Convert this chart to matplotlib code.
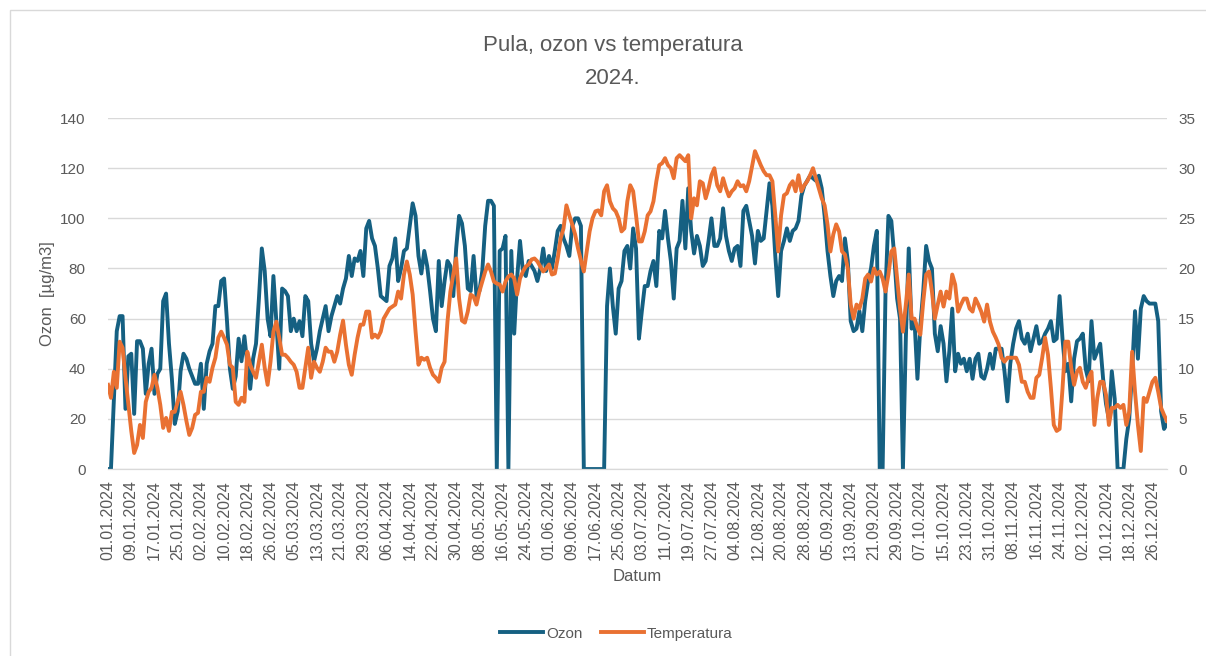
import pandas as pd
import matplotlib.pyplot as plt
import matplotlib.patches as patches
import numpy as np

# dnevni podaci, Pula 2024
dates = pd.date_range("2024-01-01", "2024-12-31", freq="D")

ozon = [
    0, 0, 28, 55, 61, 61, 24, 45, 46, 22, 51,
    51, 48, 30, 42, 48, 30, 38, 40, 67, 70,
    50, 36, 18, 23, 39, 46, 44, 40, 37, 34,
    34, 42, 24, 42, 47, 50, 65, 65, 75, 76,
    59, 40, 32, 37, 52, 43, 53, 42, 32, 44,
    50, 68, 88, 79, 60, 53, 77, 59, 40, 72,
    71, 69, 55, 60, 55, 59, 53, 69, 67, 50,
    43, 48, 55, 60, 65, 55, 61, 65, 69, 66,
    72, 76, 85, 77, 84, 83, 87, 77, 96, 99,
    92, 89, 80, 69, 68, 67, 81, 84, 92, 75,
    80, 87, 88, 97, 106, 101, 85, 78, 87, 81,
    71, 60, 55, 83, 65, 75, 83, 81, 69, 88,
    101, 98, 89, 72, 71, 85, 69, 71, 79, 97,
    107, 107, 105, 0, 87, 88, 93, 0, 87, 54,
    76, 91, 79, 77, 83, 81, 79, 75, 80, 88,
    79, 85, 80, 87, 95, 97, 92, 89, 85, 97,
    100, 100, 97, 0, 0, 0, 0, 0, 0, 0,
    0, 65, 80, 65, 54, 72, 75, 87, 89, 80,
    96, 88, 52, 63, 73, 73, 79, 83, 73, 95,
    92, 103, 92, 83, 68, 88, 91, 107, 88, 112,
    95, 86, 93, 89, 81, 83, 91, 100, 89, 89,
    92, 104, 93, 87, 83, 88, 89, 81, 103, 105,
    99, 93, 82, 95, 91, 92, 103, 114, 105, 85,
    69, 87, 91, 96, 91, 95, 96, 99, 109, 113,
    115, 117, 116, 115, 117, 112, 101, 87, 77, 69,
    75, 77, 75, 92, 83, 59, 55, 56, 63, 55,
    67, 75, 80, 89, 95, 0, 0, 71, 101, 99,
    85, 68, 60, 0, 52, 88, 56, 59, 36, 57,
    71, 89, 83, 80, 54, 47, 57, 50, 35, 47,
    64, 39, 46, 42, 44, 39, 44, 36, 44, 46,
    37, 36, 40, 46, 40, 48, 48, 48, 39, 27,
    42, 50, 56, 59, 52, 50, 54, 47, 52, 57,
    50, 51, 54, 56, 59, 51, 52, 69, 52, 39,
    42, 27, 44, 51, 52, 54, 40, 35, 59, 44,
    47, 50, 36, 26, 20, 39, 28, 0, 0, 0,
    12, 20, 39, 63, 44, 64, 69, 67, 66, 66,
    66, 59, 23, 16, 18,
]

temperatura = [
    8.4, 7.1, 9.7, 8.1, 12.7, 12.1, 9.1, 6.4, 3.8, 1.6, 2.4,
    4.4, 3.1, 6.7, 7.7, 8.1, 9.4, 8.1, 6.4, 4.1, 5.1,
    3.8, 5.7, 5.7, 6.7, 7.7, 6.4, 4.8, 3.4, 4.1, 5.4,
    5.6, 7.7, 7.7, 9.1, 8.7, 10.1, 11.1, 13.1, 13.7, 13.1,
    12.4, 10.4, 10.1, 6.7, 6.4, 7.1, 6.7, 11.7, 10.4, 9.7,
    9.1, 10.7, 12.4, 10.1, 8.4, 10.7, 13.7, 14.7, 13.1, 11.4,
    11.4, 11.1, 10.7, 10.4, 9.7, 8.1, 8.1, 10.1, 12.1, 9.1,
    10.7, 10.1, 9.7, 10.7, 12.1, 11.7, 11.7, 10.7, 11.7, 13.4,
    14.8, 12.4, 10.4, 9.4, 11.4, 13.1, 14.4, 14.4, 15.7, 15.7,
    13.1, 13.4, 13.1, 13.7, 15.0, 15.5, 16.0, 16.2, 16.4, 17.7,
    17.0, 19.4, 20.7, 19.4, 17.4, 13.7, 10.4, 11.1, 10.9, 11.1,
    10.1, 9.4, 9.1, 8.7, 10.1, 10.7, 14.7, 17.7, 19.4, 21.0,
    17.0, 14.8, 14.6, 15.7, 17.4, 17.2, 16.4, 17.7, 18.7, 19.7,
    20.4, 19.7, 18.7, 18.5, 18.4, 17.7, 18.7, 19.2, 19.4, 19.0,
    17.4, 19.0, 19.7, 20.2, 20.4, 20.9, 21.0, 20.7, 20.2, 19.7,
    20.0, 20.4, 19.4, 19.5, 21.0, 23.0, 24.0, 26.3, 25.3, 24.4,
    23.4, 22.0, 20.8, 19.7, 21.7, 23.7, 25.0, 25.7, 25.8, 25.3,
    27.7, 28.3, 26.7, 26.0, 25.7, 25.0, 23.7, 24.0, 26.7, 28.3,
    27.7, 25.3, 22.7, 22.7, 23.7, 25.3, 25.7, 26.7, 28.7, 30.3,
    30.5, 31.0, 30.3, 30.0, 29.0, 31.0, 31.3, 31.0, 30.7, 31.3,
    25.0, 27.0, 26.3, 28.7, 28.5, 27.0, 28.0, 29.3, 30.0, 28.3,
    27.7, 29.0, 28.0, 27.2, 27.7, 28.0, 28.7, 28.2, 28.3, 27.7,
    28.7, 30.2, 31.7, 31.0, 30.3, 29.7, 29.3, 29.3, 28.7, 25.3,
    21.7, 25.3, 27.3, 27.5, 28.3, 28.7, 27.7, 29.3, 27.7, 28.3,
    28.7, 29.3, 30.0, 29.0, 28.0, 27.0, 26.3, 24.4, 21.7, 23.4,
    24.4, 23.7, 21.7, 21.4, 20.0, 16.4, 15.0, 16.4, 16.0, 17.0,
    19.0, 19.4, 18.7, 20.0, 19.4, 19.7, 19.0, 17.7, 19.4, 21.7,
    22.0, 19.0, 16.0, 13.7, 16.4, 19.4, 15.0, 15.0, 14.1, 13.4,
    16.7, 19.4, 19.7, 17.7, 15.0, 16.4, 17.7, 16.2, 17.7, 17.0,
    19.4, 18.4, 15.7, 16.4, 17.0, 17.0, 16.0, 15.7, 17.0, 16.4,
    15.7, 14.7, 16.4, 14.7, 13.7, 13.1, 12.4, 11.1, 10.7, 11.1,
    11.1, 11.1, 11.1, 10.4, 8.7, 8.7, 7.7, 7.1, 7.1, 9.1,
    9.4, 11.1, 13.1, 11.4, 8.1, 4.4, 3.8, 4.0, 8.0, 12.7,
    12.7, 10.1, 8.4, 9.7, 10.1, 8.7, 8.1, 9.1, 9.7, 4.4,
    7.1, 8.7, 8.7, 7.4, 4.4, 6.1, 6.1, 6.4, 6.1, 6.4,
    4.4, 5.7, 11.7, 7.7, 4.4, 1.8, 7.1, 6.7, 7.7, 8.7,
    9.1, 7.7, 6.1, 5.4, 4.8,
]

plt.rcParams['font.family'] = ['Liberation Sans', 'DejaVu Sans']
siva = '#595959'
plava = '#156082'
narancasta = '#E97132'

x = np.arange(len(dates))
fig = plt.figure(figsize=(12.06, 6.56), dpi=100)
ax = fig.add_axes([0.0896, 0.285, 0.878, 0.535])
ax2 = ax.twinx()

l1, = ax.plot(x, ozon, color=plava, lw=2.8, solid_joinstyle='round', label='Ozon')
l2, = ax2.plot(x, temperatura, color=narancasta, lw=2.8, solid_joinstyle='round', label='Temperatura')
ax.set_zorder(ax2.get_zorder() - 1)
ax.patch.set_visible(True)
ax2.patch.set_visible(False)

ax.set_ylim(0, 140)
ax.set_yticks(range(0, 141, 20))
ax2.set_ylim(0, 35)
ax2.set_yticks(range(0, 36, 5))
ax.set_xlim(0, len(dates) - 1)

tick_idx = x[::8]
ax.set_xticks(tick_idx)
ax.set_xticklabels([dates[i].strftime('%d.%m.%Y') for i in tick_idx], rotation=90)

ax.grid(axis='y', color='#D9D9D9', lw=1)
for a in (ax, ax2):
    for s in ('top', 'left', 'right'):
        a.spines[s].set_visible(False)
    a.spines['bottom'].set_color('#D9D9D9')
    a.tick_params(colors=siva, labelsize=11, length=0)
ax.tick_params(axis='x', pad=8, labelsize=11.5)
ax.tick_params(axis='y', pad=16)
ax2.tick_params(axis='y', pad=8)

ax.set_xlabel('Datum', color=siva, fontsize=12, labelpad=6)
ax.set_ylabel('Ozon  [µg/m3]', color=siva, fontsize=12, labelpad=4)

fig.text(0.508, 0.930, 'Pula, ozon vs temperatura', ha='center', va='center',
         fontsize=16, color=siva)
fig.text(0.508, 0.880, '2024.', ha='center', va='center', fontsize=16, color=siva)

fig.legend(handles=[l1, l2], loc='center', bbox_to_anchor=(0.511, 0.034), ncol=2,
           frameon=False, fontsize=11, labelcolor=siva, handlelength=2.8,
           handletextpad=0.2, columnspacing=1.2)

fig.patches.append(patches.Rectangle((10 / 1206, -0.01), 1.0, 0.995, transform=fig.transFigure,
                                     fill=False, edgecolor='#D9D9D9', lw=1))

fig.savefig('out.png', dpi=100)
